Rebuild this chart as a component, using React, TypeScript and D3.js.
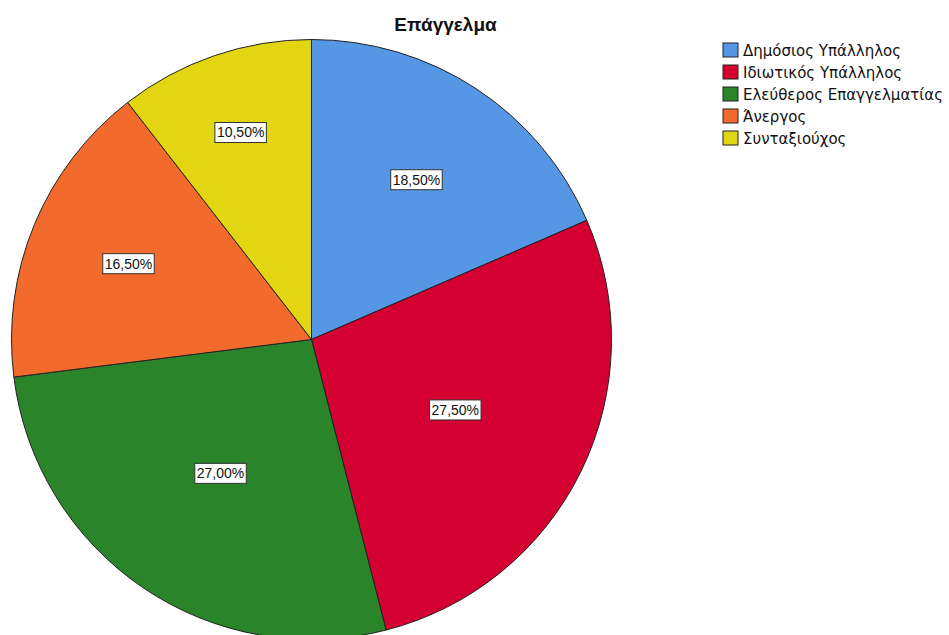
import React, { useEffect, useRef } from 'react'
import * as d3 from 'd3'

// Επάγγελμα - ποσοστά ανά κατηγορία
const categories = [
  'Δημόσιος Υπάλληλος',
  'Ιδιωτικός Υπάλληλος',
  'Ελεύθερος Επαγγελματίας',
  'Άνεργος',
  'Συνταξιούχος'
]
const percents = [18.5, 27.5, 27.0, 16.5, 10.5]
const colors = ['#5597e5', '#d50032', '#2a842a', '#f26a2c', '#e2d511']
const title = 'Επάγγελμα'

const W = 949
const H = 635

const App = () => {
  const svgRef = useRef<SVGSVGElement>(null)

  useEffect(() => {
    const svg = d3.select(svgRef.current)
    svg.selectAll('*').remove()

    const cx = 311.5
    const cy = 339.5
    const radius = 300
    const font = '"Liberation Sans", Arial, sans-serif'

    const data = categories.map((c, i) => ({ name: c, value: percents[i], color: colors[i] }))
    const pie = d3.pie<any>().sort(null).value(d => d.value)
    const arcs = pie(data)
    const arc = d3.arc<any>().innerRadius(0).outerRadius(radius)

    const g = svg.append('g').attr('transform', `translate(${cx},${cy})`)

    g.selectAll('path.slice')
      .data(arcs)
      .enter()
      .append('path')
      .attr('class', 'slice')
      .attr('d', arc)
      .attr('fill', d => d.data.color)
      .attr('stroke', '#222')
      .attr('stroke-width', 1)

    // label boxes; smaller slices push the label further out (SPSS-like)
    const fmt = (v: number) => v.toFixed(2).replace('.', ',') + '%'
    const labels = g.selectAll('g.lbl')
      .data(arcs)
      .enter()
      .append('g')
      .attr('class', 'lbl')
      .attr('transform', d => {
        const frac = (d.endAngle - d.startAngle) / (2 * Math.PI)
        const r = radius * (0.85 - 1.15 * frac)
        const a = (d.startAngle + d.endAngle) / 2
        return `translate(${r * Math.sin(a)},${-r * Math.cos(a)})`
      })

    labels.append('text')
      .attr('text-anchor', 'middle')
      .attr('dy', '0.35em')
      .style('font-family', font)
      .style('font-size', '14px')
      .attr('fill', '#111')
      .text(d => fmt(d.data.value))

    labels.each(function () {
      const sel = d3.select(this)
      const bb = (sel.select('text').node() as SVGTextElement).getBBox()
      sel.insert('rect', 'text')
        .attr('x', bb.x - 2)
        .attr('y', -10)
        .attr('width', bb.width + 4)
        .attr('height', 20)
        .attr('fill', '#fff')
        .attr('stroke', '#333')
        .attr('stroke-width', 1)
    })

    svg.append('text')
      .attr('x', 445.5)
      .attr('y', 31)
      .attr('text-anchor', 'middle')
      .style('font-family', font)
      .style('font-size', '19px')
      .style('font-weight', 'bold')
      .attr('fill', '#111')
      .text(title)

    const legend = svg.append('g').attr('transform', 'translate(723,43)')
    const rows = legend.selectAll('g.row')
      .data(data)
      .enter()
      .append('g')
      .attr('class', 'row')
      .attr('transform', (d, i) => `translate(0,${i * 22})`)

    rows.append('rect')
      .attr('width', 15)
      .attr('height', 14)
      .attr('fill', d => d.color)
      .attr('stroke', '#222')
      .attr('stroke-width', 1)

    rows.append('text')
      .attr('x', 20)
      .attr('y', 12.5)
      .style('font-family', '"DejaVu Sans", sans-serif')
      .style('font-size', '15px')
      .attr('fill', '#111')
      .text(d => d.name)
  }, [])

  return (
    <svg ref={svgRef} width={W} height={H} style={{ position: 'absolute', left: 0, top: 0, background: '#fff' }} />
  )
}

export default App
